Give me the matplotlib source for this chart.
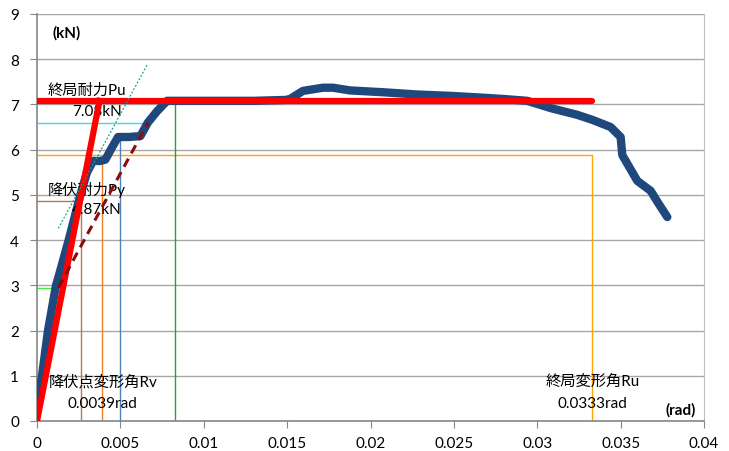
import matplotlib
matplotlib.use("Agg")
import matplotlib.pyplot as plt

plt.rcParams['font.family'] = ['Lato', 'Noto Sans CJK JP', 'DejaVu Sans']

# Load-deformation curve (rad, kN)
drift = [0.0, 0.0003, 0.00066, 0.00114, 0.0013, 0.0019, 0.0026, 0.0030,
         0.00336, 0.0038, 0.0041, 0.0045, 0.00486, 0.0055, 0.0062,
         0.00665, 0.0072, 0.0078, 0.0100, 0.0130, 0.0149, 0.01517, 0.01595,
         0.01715, 0.01775, 0.01877, 0.02075, 0.0228, 0.0248, 0.0267, 0.0280,
         0.0294, 0.0308, 0.0324, 0.0333, 0.0344, 0.0350, 0.0351, 0.0360,
         0.0368, 0.0372, 0.0378]
load = [0.3, 1.0, 2.0, 3.0, 3.2, 4.0, 5.0, 5.5,
        5.75, 5.75, 5.78, 6.05, 6.28, 6.28, 6.30,
        6.6, 6.85, 7.08, 7.08, 7.08, 7.1, 7.12, 7.30,
        7.37, 7.37, 7.31, 7.27, 7.22, 7.19, 7.15, 7.12,
        7.08, 6.92, 6.77, 6.66, 6.50, 6.28, 5.88, 5.31,
        5.09, 4.85, 4.51]

# Evaluated values
Pu, Py = 7.08, 4.87
Rv, Ru = 0.0039, 0.0333
R_bilinear = 0.00375
P_dash = [2.95, 6.6]
R_dash = [0.00128, 0.00666]
P_dot = [4.26, 7.9]
R_dot = [0.00128, 0.00664]
Ry_line, Py_step = 0.00265, 5.88
R_blue, P_blue = 0.0050, 6.3
R_green = 0.0083
P_cyan = 6.6
P_lgreen = 2.95

fig = plt.figure(figsize=(7.29, 4.52), dpi=100)
ax = fig.add_axes([37/729, 30/452, 667/729, 407/452])

# helper lines
ax.plot([0, R_dash[1]], [P_cyan, P_cyan], color='#33E0E8', lw=1.0, zorder=2)
ax.plot([0, Ru, Ru], [Py_step, Py_step, 0], color='#FFA500', lw=1.0, zorder=2)
ax.plot([Rv, Rv], [0, 5.8], color='#F07F26', lw=1.0, zorder=2)
ax.plot([0, Ry_line, Ry_line], [Py, Py, 0], color='#B87A4E', lw=1.0, zorder=2)
ax.plot([R_blue, R_blue], [0, P_blue], color='#4F81BD', lw=1.0, zorder=2)
ax.plot([R_green, R_green], [0, Pu], color='#339933', lw=1.0, zorder=2)
ax.plot([0, R_dash[0]], [P_lgreen, P_lgreen], color='#44EE44', lw=1.0, zorder=2)

# measured curve
ax.plot(drift, load, color='#1F497D', lw=6, solid_capstyle='round',
        solid_joinstyle='round', zorder=3)

# bilinear model
ax.plot([0, R_bilinear], [0, Pu], color='#FF0000', lw=4.5, zorder=4)
ax.plot([0, Ru], [Pu, Pu], color='#FF0000', lw=4.5, solid_capstyle='round', zorder=4)

ax.plot(R_dash, P_dash, color='#8B0A0A', lw=2.2, ls=(0, (3, 2)), zorder=5)
ax.plot(R_dot, P_dot, color='#1A9A9A', lw=0.9, ls=(0, (1.5, 1.5)), zorder=5)

ax.set_xlim(0, 0.04)
ax.set_ylim(0, 9)
ax.set_xticks([0, 0.005, 0.01, 0.015, 0.02, 0.025, 0.03, 0.035, 0.04])
ax.set_xticklabels(['0', '0.005', '0.01', '0.015', '0.02', '0.025', '0.03', '0.035', '0.04'])
ax.set_yticks(range(10))
ax.yaxis.grid(True, color='#A6A6A6', lw=1.0)
ax.set_axisbelow(True)
for s in ['left', 'bottom']:
    ax.spines[s].set_color('#868686')
    ax.spines[s].set_linewidth(1.2)
ax.spines['right'].set_color('#BFBFBF')
ax.spines['right'].set_linewidth(0.8)
ax.spines['top'].set_visible(False)
ax.tick_params(axis='y', length=5, color='#868686', labelsize=11, pad=8)
ax.tick_params(axis='x', length=5, color='#868686', labelsize=11, pad=6)

fs = 11
ax.text(0.0018, 8.6, '(kN)', fontsize=11, fontweight='bold', ha='center', va='center')
ax.text(0.0386, 0.25, '(rad)', fontsize=11, fontweight='bold', ha='center', va='center')
ax.text(0.0030, 7.33, '終局耐力Pu', fontsize=fs, ha='center', va='center')
ax.text(0.0036, 6.85, '7.08kN', fontsize=fs, ha='center', va='center')
ax.text(0.0030, 5.12, '降伏耐力Py', fontsize=fs, ha='center', va='center')
ax.text(0.0036, 4.68, '4.87kN', fontsize=fs, ha='center', va='center')
ax.text(0.0040, 0.88, '降伏点変形角Rv', fontsize=fs, ha='center', va='center')
ax.text(0.0039, 0.40, '0.0039rad', fontsize=fs, ha='center', va='center')
ax.text(0.0333, 0.88, '終局変形角Ru', fontsize=fs, ha='center', va='center')
ax.text(0.0333, 0.40, '0.0333rad', fontsize=fs, ha='center', va='center')

fig.savefig('out.png', dpi=100)
